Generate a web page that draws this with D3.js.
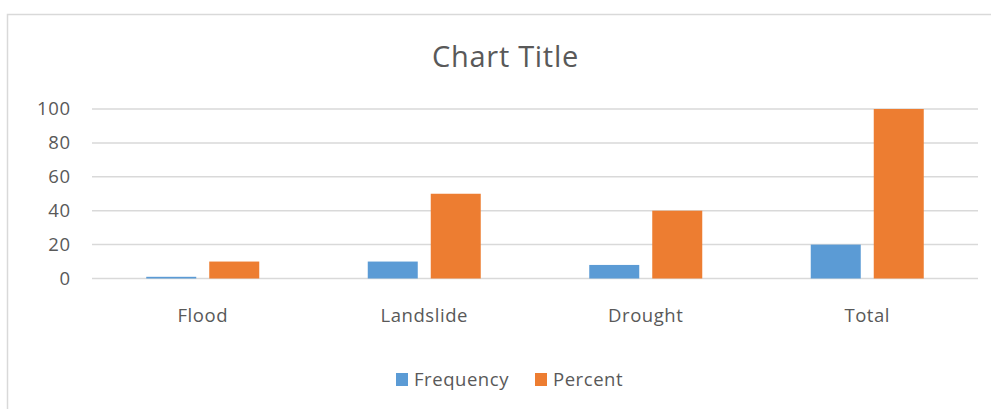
<!DOCTYPE html>
<html><head><meta charset="utf-8">
<script src="https://cdn.jsdelivr.net/npm/d3@7"></script>
<style>
html,body{margin:0;padding:0;background:#fff;}
svg{display:block;}
text{font-family:"Open Sans",Lato,sans-serif;fill:#595959;}
</style></head>
<body>
<script>
const categories = ["Flood","Landslide","Drought","Total"];
const seriesNames = ["Frequency","Percent"];
const frequency = [1,10,8,20];
const percent = [10,50,40,100];
const yTicks = [0,20,40,60,80,100];
const colors = ["#5B9BD5","#ED7D31"];
const title = "Chart Title";

const W = 991, H = 409;
const FONT = "'Open Sans', Lato, sans-serif";
const svg = d3.select("body").append("svg").attr("width",W).attr("height",H);

// chart frame
svg.append("rect").attr("x",7.5).attr("y",14.5).attr("width",W+20).attr("height",H+20)
  .attr("fill","#fff").attr("stroke","#d9d9d9").attr("stroke-width",1.5);

const plot = {left:92, right:978, top:109, bottom:278.5};
const x = d3.scaleBand().domain(categories).range([plot.left, plot.right]);
const y = d3.scaleLinear().domain([0,100]).range([plot.bottom, plot.top]);

// gridlines
svg.append("g").selectAll("line").data(yTicks).join("line")
  .attr("x1",plot.left).attr("x2",plot.right)
  .attr("y1",d=>y(d)).attr("y2",d=>y(d))
  .attr("stroke","#d9d9d9").attr("stroke-width",1.5);

// y axis labels
const yAxis = d3.axisLeft(y).tickValues(yTicks).tickSize(0).tickPadding(0);
const ya = svg.append("g").attr("transform",`translate(70,0)`).call(yAxis);
ya.select(".domain").remove();
ya.selectAll("text").attr("font-size",18.5).attr("fill","#595959")
  .style("font-family",FONT).style("letter-spacing","0.6px").attr("dx","0.6");

// x axis labels
const xAxis = d3.axisBottom(x).tickSize(0).tickPadding(0);
const xa = svg.append("g").attr("transform",`translate(0,308.5)`).call(xAxis);
xa.select(".domain").remove();
xa.selectAll("text").attr("font-size",18.5).attr("fill","#595959")
  .style("font-family",FONT).style("letter-spacing","0.55px");

// bars
const barW = 50, gap = 13;
const xs = d3.scaleOrdinal().domain(seriesNames).range([-(barW+gap/2), gap/2]);
const data = [frequency, percent];
seriesNames.forEach((s,i)=>{
  svg.append("g").selectAll("rect").data(categories).join("rect")
    .attr("x",c=>x(c)+x.bandwidth()/2 + xs(s))
    .attr("width",barW)
    .attr("y",(c,j)=>y(data[i][j]))
    .attr("height",(c,j)=>y(0)-y(data[i][j]))
    .attr("fill",colors[i]);
});

// title
svg.append("text").attr("x",505.5).attr("y",67).attr("text-anchor","middle")
  .attr("font-size",29).style("letter-spacing","0.7px").text(title);

// legend
const legItems = [{name:"Frequency",x:396},{name:"Percent",x:535}];
const lg = svg.append("g");
legItems.forEach((it,i)=>{
  lg.append("rect").attr("x",it.x).attr("y",373).attr("width",12).attr("height",13).attr("fill",colors[i]);
  lg.append("text").attr("x",it.x+18).attr("y",386).attr("font-size",18.5)
    .style("letter-spacing","0.55px").text(seriesNames[i]);
});
</script>
</body></html>
